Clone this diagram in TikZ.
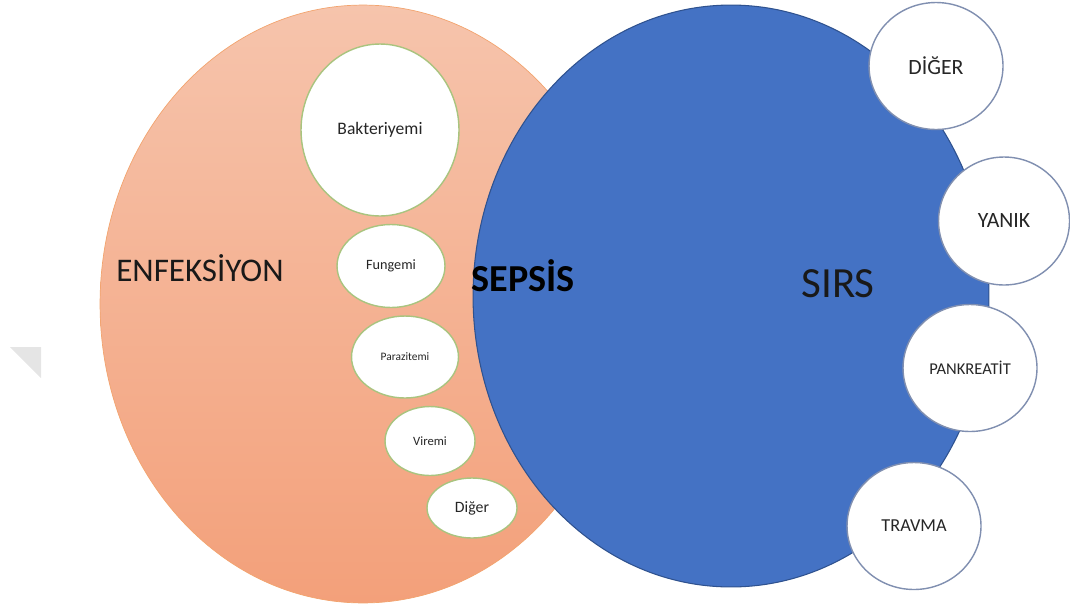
\documentclass[tikz,border=0pt]{standalone}
\usepackage{fontspec}
\setmainfont{Carlito}
\usetikzlibrary{shapes.geometric}
\definecolor{peachtop}{RGB}{246,196,172}
\definecolor{peachbot}{RGB}{243,160,122}
\definecolor{peachedge}{RGB}{237,125,49}
\definecolor{sirsblue}{RGB}{68,114,196}
\definecolor{sirsedge}{RGB}{47,82,143}
\definecolor{leafedge}{RGB}{169,196,127}
\definecolor{ringedge}{RGB}{128,143,176}
\tikzset{
  sub/.style={ellipse, draw=leafedge, fill=white, line width=0.8pt, inner sep=0pt, text=black!85},
  cause/.style={ellipse, draw=ringedge, fill=white, line width=0.8pt, inner sep=0pt,
    minimum width=2.68cm, minimum height=2.54cm, text=black!85},
  fs/.style={font=\fontsize{#1}{#1}\selectfont}
}
\begin{document}
\begin{tikzpicture}[x=0.02cm, y=-0.02cm]
\useasboundingbox (0,0) rectangle (1070,609);
\fill[black!10] (10,347)--(41,347)--(41,378)--cycle;

% infection side
\node[ellipse, draw=peachedge!70, line width=0.4pt, top color=peachtop, bottom color=peachbot,
  minimum width=10.52cm, minimum height=11.96cm] (enf) at (363,304) {};
\node[sub, fs=10, minimum width=3.16cm, minimum height=3.44cm] (bak) at (380,130) {Bakteriyemi};
\node[sub, fs=8.1, minimum width=2.16cm, minimum height=1.66cm] (fun) at (391,266) {Fungemi};
\node[sub, fs=6.5, minimum width=2.14cm, minimum height=1.64cm] (par) at (405,357) {Parazitemi};
\node[sub, fs=7.2, minimum width=1.8cm, minimum height=1.38cm] (vir) at (430,441) {Viremi};
\node[sub, fs=9, minimum width=1.8cm, minimum height=1.2cm] (dig) at (472,508) {Diğer};

% sirs side
\node[ellipse, draw=sirsedge, line width=0.6pt, fill=sirsblue,
  minimum width=10.32cm, minimum height=11.64cm] (sirs) at (731,296) {};
\node[cause, fs=12.4] (digr) at (936,66) {DİĞER};
\node[cause, fs=12.4, minimum width=2.62cm, minimum height=2.56cm] (yan) at (1004,221) {YANIK};
\node[cause, fs=9.4] (pan) at (970,368) {PANKREATİT};
\node[cause, fs=10.4] (tra) at (914,526) {TRAVMA};

% labels
\node[fs=18.8, anchor=base, text=black!90] (enfl) at (200,281) {ENFEKSİYON};
\node[font=\bfseries\fontsize{21.7}{21.7}\selectfont, anchor=base] (sep) at (523,291) {SEPSİS};
\node[fs=24.5, anchor=base, text=black!90] (sirsl) at (838,297) {SIRS};
\end{tikzpicture}
\end{document}
